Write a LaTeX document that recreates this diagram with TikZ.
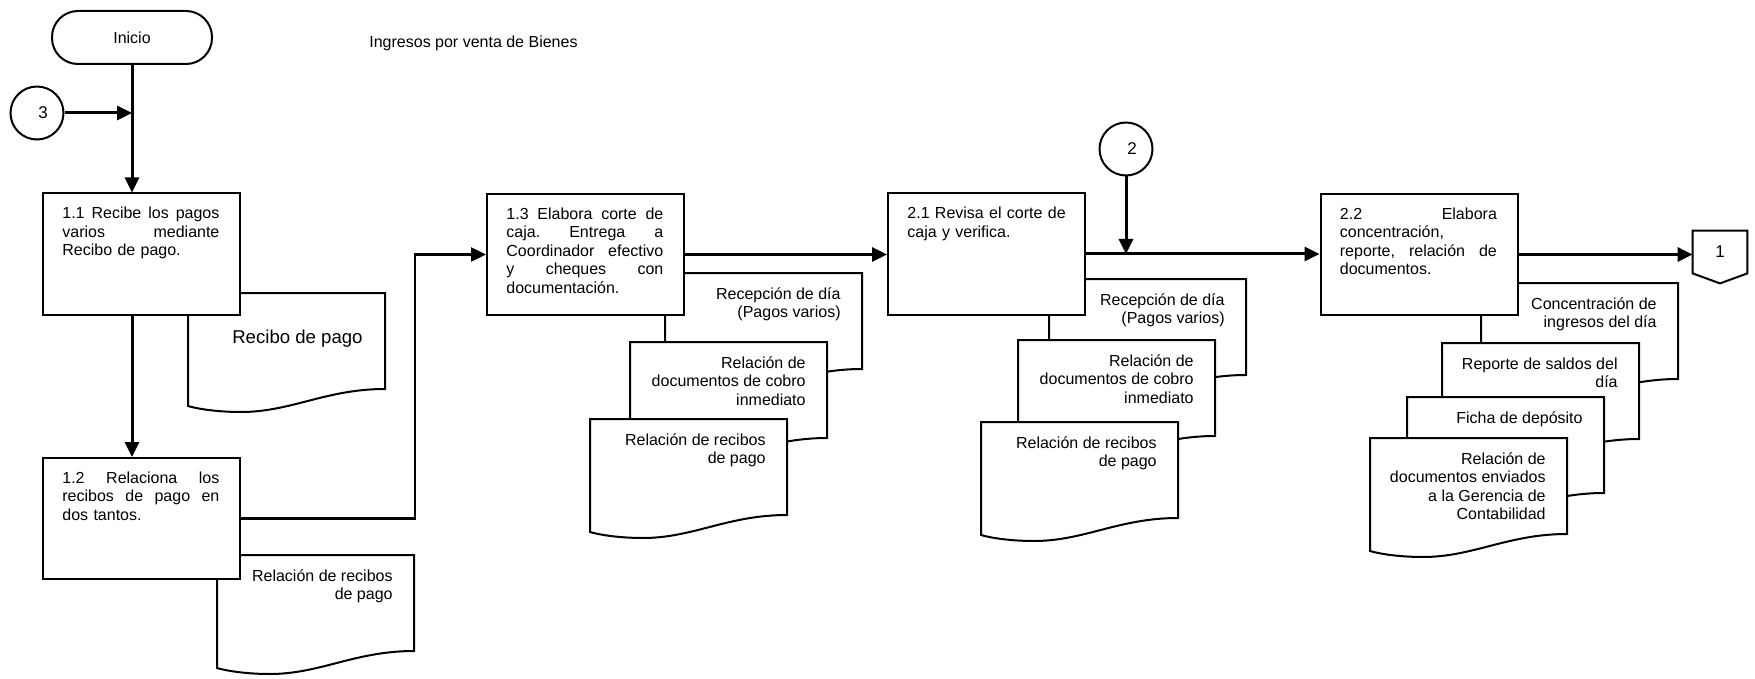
\documentclass[tikz,border=0pt]{standalone}
\usepackage{fontspec}
\setmainfont{Liberation Sans}
\usetikzlibrary{arrows.meta,calc}

% a line of box text spread over the full column (words split by \hfill)
\newcommand{\fullline}[1]{\leavevmode\hbox to 78.5pt{#1}}

\begin{document}
\begin{tikzpicture}[x=0.5pt,y=-0.5pt,
  every node/.style={font=\fontsize{8}{9.25}\selectfont},
  box/.style={draw, line width=1pt, fill=white, minimum width=98.5pt,
    minimum height=60.5pt, inner sep=0pt},
  boxtext/.style={anchor=north west, inner sep=0pt, text width=82pt, align=left},
  doctext/.style={anchor=north east, inner sep=0pt, align=right},
  flow/.style={line width=1.5pt, -{Triangle[length=7.5pt,width=7pt]}},
  conn/.style={draw, circle, line width=1pt, minimum size=26.5pt, inner sep=0pt,
    font=\fontsize{8.5}{10}\selectfont},
  docu/.pic={
    \filldraw[fill=white, line width=1pt] (0,0) -- (197,0) -- (197,96)
      .. controls (138,96) and (103,119) .. (53,119)
      .. controls (30,119) and (10,116) .. (0,113) -- cycle;
    \node[doctext] (-t) at (176,13) {\strut #1};
  }
]
\useasboundingbox (0,0) rectangle (1755,679);

% heading
\node[anchor=west, inner sep=0pt] (title) at (369,43) {Ingresos por venta de Bienes};

% start terminal and on-page connectors
\node[draw, line width=1pt, rounded corners=13pt, minimum width=80pt,
  minimum height=26.5pt, inner sep=0pt] (ini) at (132,37.5) {Inicio};
\node[conn] (c3) at (37,113) {\makebox[0pt]{\hspace{6pt}3}};
\node[conn] (c2) at (1126,149) {\makebox[0pt]{\hspace{6pt}2}};

% 1.1 with its document
\pic (d11) at (188,293) {docu={}};
\node[anchor=base east, inner sep=0pt, font=\fontsize{9.3}{11}\selectfont]
  (d11label) at (363,343) {Recibo de pago};
\node[box] (b11) at (141.5,254) {};
\node[boxtext] (t11) at ($(b11.north west)+(20,13)$)
  {\strut\fullline{1.1\hfill Recibe\hfill los\hfill pagos}\\
   \fullline{varios\hfill mediante}\\
   Recibo de pago.};

% 1.2 with its document
\pic (d12) at (217,555) {docu={Relación de recibos\\de pago}};
\node[box] (b12) at (141.5,518.5) {};
\node[boxtext] (t12) at ($(b12.north west)+(20,13)$)
  {\strut\fullline{1.2\hfill Relaciona\hfill los}\\
   \fullline{recibos\hfill de\hfill pago\hfill en}\\
   dos tantos.};

% 1.3 with its document stack
\pic (d131) at (665,273) {docu={Recepción de día\\(Pagos varios)}};
\pic (d132) at (630,342) {docu={Relación de\\documentos de cobro\\inmediato}};
\pic (d133) at (590,419) {docu={Relación de recibos\\de pago}};
\node[box] (b13) at (585.5,254.5) {};
\node[boxtext] (t13) at ($(b13.north west)+(20,13)$)
  {\strut\fullline{1.3\hfill Elabora\hfill corte\hfill de}\\
   \fullline{caja.\hfill Entrega\hfill a}\\
   \fullline{Coordinador\hfill efectivo}\\
   \fullline{y\hfill cheques\hfill con}\\
   documentación.};

% 2.1 with its document stack
\pic (d211) at (1049,279) {docu={Recepción de día\\(Pagos varios)}};
\pic (d212) at (1018,340) {docu={Relación de\\documentos de cobro\\inmediato}};
\pic (d213) at (981,422) {docu={Relación de recibos\\de pago}};
\node[box] (b21) at (986.5,254) {};
\node[boxtext] (t21) at ($(b21.north west)+(20,13)$)
  {\strut 2.1 Revisa el corte de\\caja y verifica.};

% 2.2 with its document stack
\pic (d221) at (1481,283) {docu={Concentración de\\ingresos del día}};
\pic (d222) at (1442,343) {docu={Reporte de saldos del\\día}};
\pic (d223) at (1407,397) {docu={Ficha de depósito}};
\pic (d224) at (1370,438) {docu={Relación de\\documentos enviados\\a la Gerencia de\\Contabilidad}};
\node[box] (b22) at (1419,254.5) {};
\node[boxtext] (t22) at ($(b22.north west)+(20,13)$)
  {\strut\fullline{2.2\hfill Elabora}\\
   concentración,\\
   \fullline{reporte,\hfill relación\hfill de}\\
   documentos.};

% off-page connector
\node[minimum width=27pt, minimum height=21pt, inner sep=0pt,
  font=\fontsize{8.5}{10}\selectfont] (c1) at (1720,252) {1};
\draw[line width=1pt] (c1.north west) -- (c1.north east) -- (c1.south east)
  -- ($(c1.south)+(0,10)$) -- (c1.south west) -- cycle;

% flow
\coordinate (k) at (415,254.5);
\draw[flow] (ini) -- (ini |- b11.north);
\draw[flow] (c3) -- (c3 -| ini);
\draw[flow] (b11.south -| ini) -- (b12.north -| ini);
\draw[flow, line width=1.2pt] (b12.east) -| (k) -- (b13.west);
\draw[flow] (b13.east) -- (b13.east -| b21.west);
\draw[flow] (b21.east) -- (b21.east -| b22.west);
\draw[flow] (c2) -- (c2 |- b21.east);
\draw[flow] (b22.east) -- (b22.east -| c1.west);
\end{tikzpicture}
\end{document}
